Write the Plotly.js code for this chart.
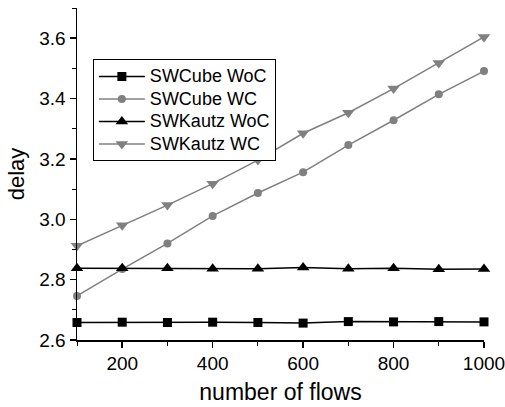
<!DOCTYPE html>
<html><head><meta charset="utf-8">
<script src="https://cdn.plot.ly/plotly-3.0.1.min.js"></script>
<style>html,body{margin:0;padding:0;background:#fff}</style>
</head><body>
<div id="chart" style="width:505px;height:407px"></div>
<script>
const flows = [100,200,300,400,500,600,700,800,900,1000];
const swcubeWoC = [2.658,2.659,2.658,2.659,2.658,2.656,2.661,2.660,2.661,2.660];
const swcubeWC = [2.746,2.835,2.920,3.011,3.087,3.156,3.246,3.328,3.414,3.491];
const swkautzWoC = [2.838,2.838,2.838,2.836,2.836,2.840,2.836,2.838,2.834,2.835];
const swkautzWC = [2.912,2.980,3.047,3.118,3.196,3.285,3.353,3.433,3.518,3.604];
const names = ["SWCube WoC","SWCube WC","SWKautz WoC","SWKautz WC"];

const mk = (y, name, color, symbol, size) => ({
  x: flows, y: y, name: '<span style="font-size:18px">' + name + '</span>',
  type: 'scatter', mode: 'lines+markers',
  line: {color: color, width: 1.5},
  marker: {color: color, symbol: symbol, size: size},
  cliponaxis: false
});
const data = [
  mk(swcubeWoC, names[0], '#000000', 'square', 9),
  mk(swcubeWC, names[1], '#808080', 'circle', 8),
  mk(swkautzWoC, names[2], '#000000', 'triangle-up', 11),
  mk(swkautzWC, names[3], '#808080', 'triangle-down', 11)
];
const layout = {
  width: 505, height: 407,
  margin: {l: 77, r: 21, t: 8, b: 67},
  paper_bgcolor: '#fff', plot_bgcolor: '#fff',
  font: {family: 'Liberation Sans, Arial, sans-serif', color: '#000', size: 17},
  showlegend: true,
  legend: {x: 0.039, y: 0.846, xanchor: 'left', yanchor: 'top',
    bordercolor: '#000', borderwidth: 1, bgcolor: '#fff',
    font: {size: 15}, tracegroupgap: 0, itemwidth: 46},
  xaxis: {
    range: [100, 1000], tickvals: [200,400,600,800,1000],
    showline: true, linecolor: '#000', linewidth: 1.5, mirror: false,
    ticks: 'outside', ticklen: 6, tickwidth: 1.5, tickcolor: '#000',
    minor: {tickvals: [100,300,500,700,900], ticks: 'outside', ticklen: 4, tickwidth: 1, tickcolor: '#000'},
    showgrid: false, zeroline: false, ticklabeloverflow: 'allow',
    tickfont: {size: 19},
    title: {text: 'number of flows', font: {size: 23}, standoff: 10}
  },
  yaxis: {
    range: [2.6, 3.7], tickvals: [2.6,2.8,3.0,3.2,3.4,3.6], ticktext: ['2.6','2.8','3.0','3.2','3.4','3.6'],
    showline: true, linecolor: '#000', linewidth: 1.5, mirror: false,
    ticks: 'outside', ticklen: 6, tickwidth: 1.5, tickcolor: '#000',
    minor: {tickvals: [2.7,2.9,3.1,3.3,3.5,3.7], ticks: 'outside', ticklen: 4, tickwidth: 1, tickcolor: '#000'},
    showgrid: false, zeroline: false,
    tickfont: {size: 19},
    title: {text: 'delay', font: {size: 22}, standoff: 8}
  }
};
Plotly.newPlot('chart', data, layout, {displayModeBar: false, staticPlot: true});
</script>
</body></html>
